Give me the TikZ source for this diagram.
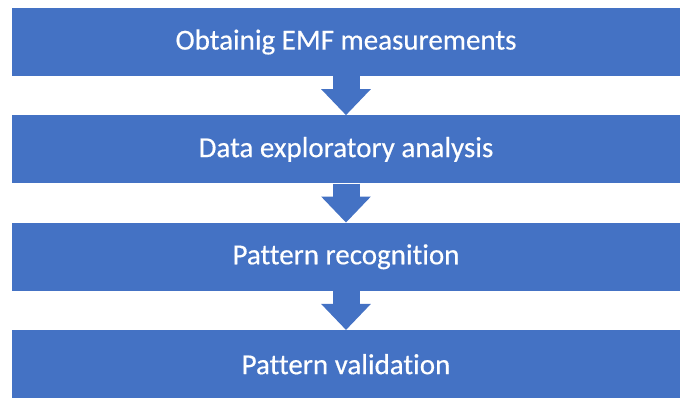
\documentclass[tikz,border=0pt]{standalone}
\usepackage{fontspec}
\setmainfont{Carlito}[Ligatures=NoCommon,FakeBold=0.4]
\usetikzlibrary{positioning,arrows.meta}
\definecolor{stageblue}{HTML}{4472C4}

\begin{document}
\begin{tikzpicture}[node distance=39pt,
  stage node/.style={rectangle,fill=stageblue,text=white,minimum width=668pt,minimum height=68pt,inner sep=0pt,font=\fontsize{29}{34}\selectfont},
  flow/.style={color=stageblue,line width=27pt,-{Triangle[width=48pt,length=26pt]}}]

  \useasboundingbox (0pt,0pt) rectangle (681pt,-398pt);

  \node[stage node] (1) at (346pt,-42pt) {Obtainig EMF measurements};
  \node[stage node] (2) [below=of 1] {Data exploratory analysis};
  \node[stage node] (3) [below=of 2] {Pattern recognition};
  \node[stage node] (4) [below=of 3] {Pattern validation};

  \draw[flow] (1.south) -- (2.north);
  \draw[flow] (2.south) -- (3.north);
  \draw[flow] (3.south) -- (4.north);
\end{tikzpicture}
\end{document}
